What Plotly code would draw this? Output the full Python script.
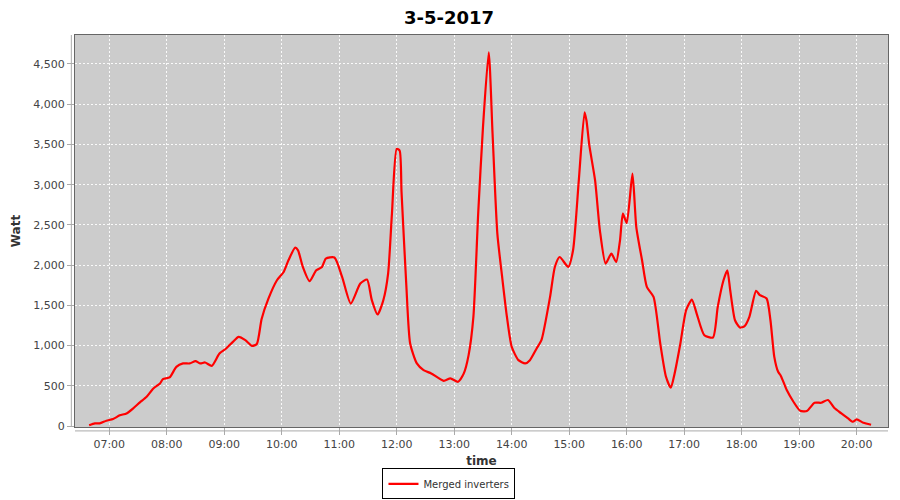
import plotly.graph_objects as go

day = "2017-05-03 "

# readings (time, watt)
times = [
    "06:39", "06:45", "06:50", "06:57", "07:04", "07:11", "07:18", "07:25", "07:32", "07:39",
    "07:46", "07:53", "07:56", "08:03", "08:10", "08:17", "08:24", "08:30", "08:35", "08:40",
    "08:47", "08:55", "09:02", "09:09", "09:15", "09:22", "09:29", "09:34", "09:39", "09:46",
    "09:55", "10:02", "10:07", "10:14", "10:17", "10:22", "10:29", "10:36", "10:42", "10:46",
    "10:55", "11:03", "11:12", "11:22", "11:29", "11:34", "11:40", "11:46", "11:51", "11:55",
    "12:00", "12:03", "12:05", "12:10", "12:14", "12:21", "12:28", "12:36", "12:49", "12:56",
    "13:04", "13:10", "13:15", "13:20", "13:25", "13:30", "13:36", "13:40", "13:45", "13:50",
    "13:55", "14:00", "14:07", "14:14", "14:19", "14:26", "14:31", "14:40", "14:45", "14:50",
    "14:59", "15:04", "15:10", "15:16", "15:18", "15:21", "15:27", "15:32", "15:38", "15:44",
    "15:49", "15:53", "15:56", "16:00", "16:06", "16:10", "16:16", "16:21", "16:28", "16:35",
    "16:41", "16:46", "16:50", "16:56", "17:02", "17:08", "17:13", "17:21", "17:30", "17:35",
    "17:41", "17:45", "17:48", "17:53", "17:58", "18:03", "18:08", "18:15", "18:19", "18:26",
    "18:30", "18:34", "18:38", "18:41", "18:47", "18:54", "19:01", "19:08", "19:16", "19:23",
    "19:30", "19:37", "19:44", "19:51", "19:56", "20:00", "20:07", "20:15",
]
watts = [
    10, 33, 33, 66, 87, 133, 157, 220, 294, 364,
    467, 530, 583, 604, 736, 778, 778, 807, 778, 790,
    748, 902, 964, 1046, 1108, 1067, 996, 1020, 1330, 1580,
    1812, 1915, 2060, 2218, 2184, 1977, 1800, 1936, 1977, 2081,
    2094, 1853, 1522, 1771, 1820, 1564, 1386, 1564, 1895, 2640,
    3446, 3425, 2908, 1750, 1026, 778, 695, 654, 562, 592,
    550, 654, 881, 1356, 2640, 3715, 4645, 3632, 2391, 1853,
    1356, 984, 819, 778, 819, 964, 1067, 1605, 1977, 2101,
    1977, 2184, 3053, 3900, 3797, 3487, 3053, 2432, 2019, 2143,
    2039, 2308, 2640, 2523, 3136, 2473, 2060, 1729, 1605, 1026,
    612, 476, 654, 1026, 1440, 1572, 1398, 1129, 1100, 1481,
    1812, 1936, 1688, 1315, 1225, 1241, 1356, 1679, 1626, 1585,
    1315, 860, 674, 620, 447, 302, 190, 186, 289, 289,
    323, 220, 157, 95, 53, 83, 41, 16,
]

font_family = "DejaVu Sans"

fig = go.Figure(go.Scatter(
    x=[day + t for t in times],
    y=watts,
    mode="lines",
    name="Merged inverters",
    line=dict(color="#ff0000", width=2.2, shape="spline", smoothing=0.6),
))

grid = dict(showgrid=True, gridcolor="rgba(255,255,255,0.9)", griddash="2px,2px", gridwidth=1)

# page body adds an 8px margin, so the figure is sized to fit the 900x500 window
fig.update_layout(
    width=892, height=492,
    paper_bgcolor="white", plot_bgcolor="#cccccc",
    margin=dict(l=67, r=12, t=27, b=73, autoexpand=False),
    font=dict(family=font_family, size=11, color="#444444"),
    title=dict(text="<b>3-5-2017</b>", x=0.4944, xanchor="center",
               y=1 - 10 / 492, yanchor="middle",
               font=dict(size=18, color="black", family=font_family)),
    showlegend=True,
    legend=dict(orientation="h", x=0.46, xanchor="center", y=-0.145, yanchor="middle",
                bordercolor="black", borderwidth=1, bgcolor="white",
                itemwidth=30, tracegroupgap=0,
                font=dict(size=10, color="#333333")),
    xaxis=dict(
        **grid,
        range=[day + "06:24:15", day + "20:32:40"],
        tickformat="%H:%M", dtick=3600000, tick0=day + "07:00",
        ticks="outside", ticklen=7, tickcolor="#aaaaaa",
        showline=True, linecolor="#666666", mirror=True, zeroline=False,
        automargin=False,
        title=dict(text="<b>time</b>", font=dict(size=12, color="#333333"), standoff=6),
    ),
    yaxis=dict(
        **grid,
        range=[-12, 4860], dtick=500, tickformat=",",
        ticks="outside", ticklen=7, tickcolor="#aaaaaa",
        showline=True, linecolor="#666666", mirror=True, zeroline=False,
        automargin=False,
        title=dict(text="<b>Watt</b>", font=dict(size=12, color="#333333"), standoff=10),
    ),
)

# detached axis lines like the original
fig.add_shape(type="line", xref="paper", yref="paper", x0=-0.0045, x1=-0.0045, y0=0, y1=1,
              line=dict(color="#aaaaaa", width=1))
fig.add_shape(type="line", xref="paper", yref="paper", x0=0, x1=1, y0=-0.01, y1=-0.01,
              line=dict(color="#aaaaaa", width=1))

fig.write_html("out.html")
